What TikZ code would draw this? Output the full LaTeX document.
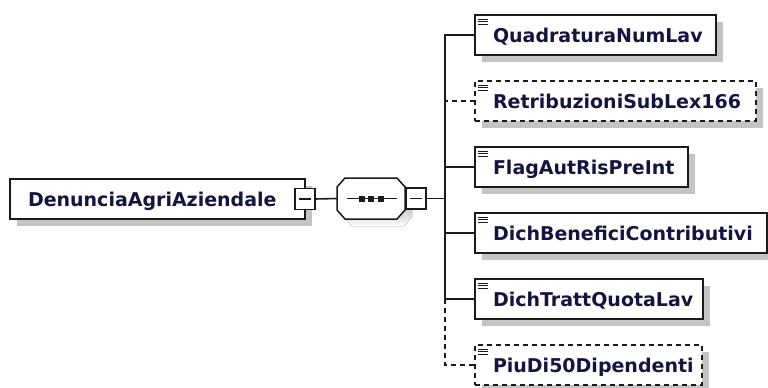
\documentclass[tikz,border=0pt]{standalone}
\usepackage{fontspec}
\newfontfamily\elemfont{DejaVu Sans}
\usetikzlibrary{shadows}
\definecolor{txt}{HTML}{141440}
\definecolor{shade}{HTML}{C4C4C4}
\definecolor{edge}{HTML}{1A1A1A}
\newcommand\octo[3]{([shift={(8+#2,#3)}]#1.north west) -- ([shift={(-8+#2,#3)}]#1.north east)
  -- ([shift={(#2,9+#3)}]#1.north east) -- ([shift={(#2,-9+#3)}]#1.south east)
  -- ([shift={(-8+#2,#3)}]#1.south east) -- ([shift={(8+#2,#3)}]#1.south west)
  -- ([shift={(#2,-9+#3)}]#1.south west) -- ([shift={(#2,9+#3)}]#1.north west) -- cycle}
\tikzset{
  shad/.style={drop shadow={shadow xshift=7pt, shadow yshift=-7pt, fill=shade, opacity=1}},
  elem/.style={draw=edge, line width=1.6pt, fill=white, shad, anchor=west,
    minimum height=40pt, inner xsep=0pt, inner ysep=0pt, outer sep=0pt,
    text width=#1, text height=14pt, text depth=0pt, align=left,
    font=\elemfont\bfseries\fontsize{19}{22}\selectfont, text=txt},
  optelem/.style={elem=#1, dash pattern=on 5pt off 4pt},
  minusbox/.style={draw=edge, line width=1.6pt, fill=white, minimum width=20pt, minimum height=21pt, inner sep=0pt, outer sep=0pt},
  seqbox/.style={rectangle, minimum width=68pt, minimum height=41pt, inner sep=0pt, outer sep=0pt},
  conn/.style={draw=edge, line width=1.6pt},
  dconn/.style={conn, dash pattern=on 5pt off 4pt},
  iconline/.style={draw=edge, line width=1pt},
}
\begin{document}
\begin{tikzpicture}[x=1pt,y=-1pt]
\useasboundingbox (0,0) rectangle (768,388);
% root
\node[elem=295pt] (root) at (10,199) {\hspace*{18pt}DenunciaAgriAziendale};
\node[minusbox] (rm) at (305,199) {};
\draw[conn] (rm.center) +(-6,0) -- +(6,0);
% sequence
\node[seqbox] (seq) at (371,198.5) {};
\fill[shade] \octo{seq}{7}{7};
\filldraw[fill=white, draw=edge, line width=1.5pt] \octo{seq}{0}{0};
\draw[conn, line width=1.4pt] (seq.center) +(-24,0) -- +(26,0);
\foreach \dx in {-9,0,10} { \fill[edge] ([shift={(\dx-3,-3)}]seq.center) rectangle ++(6,6); }
\node[minusbox] (sm) at (416,198.5) {};
\draw[conn] (sm.center) +(-6,0) -- +(6,0);
\coordinate (bus) at (445,198.5);
\draw[conn] (rm.east) -- (seq.west);
\draw[conn] (sm.east) -- (bus);
% children
\node[elem=241pt] (q) at (475,35) {\hspace*{18pt}QuadraturaNumLav};
\node[optelem=281pt] (r) at (475,101) {\hspace*{18pt}RetribuzioniSubLex166};
\node[elem=213pt] (f) at (475,167) {\hspace*{18pt}FlagAutRisPreInt};
\node[elem=292pt] (db) at (475,233) {\hspace*{18pt}DichBeneficiContributivi};
\node[elem=228pt] (dt) at (475,299) {\hspace*{18pt}DichTrattQuotaLav};
\node[optelem=227pt] (p) at (475,365) {\hspace*{18pt}PiuDi50Dipendenti};
\foreach \n in {q,r,f,db,dt,p} {
  \draw[iconline] ([shift={(3,4)}]\n.north west) -- ++(10,0);
  \draw[iconline] ([shift={(3,6.5)}]\n.north west) -- ++(10,0);
  \draw[iconline] ([shift={(3,9)}]\n.north west) -- ++(10,0);
}
% connectors
\draw[conn] (q.west) -| (dt.west -| bus);
\draw[dconn] (r.west) -- (r.west -| bus);
\draw[conn] (f.west) -- (f.west -| bus);
\draw[conn] (db.west) -- (db.west -| bus);
\draw[conn] (dt.west) -- (dt.west -| bus);
\draw[dconn] (dt.west -| bus) |- (p.west);
\end{tikzpicture}
\end{document}
